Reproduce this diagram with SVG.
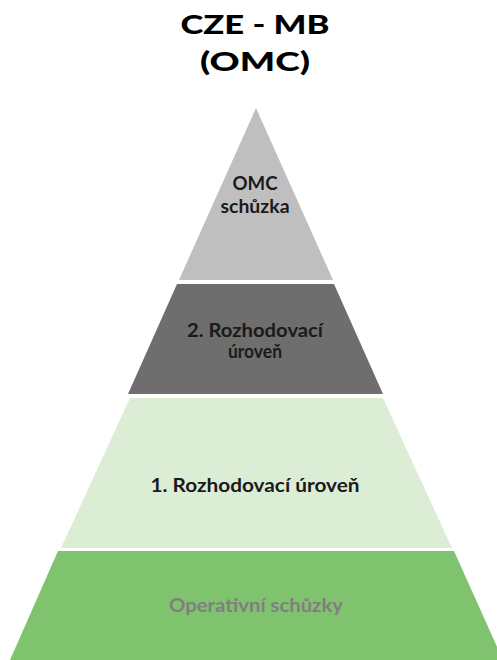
<svg xmlns="http://www.w3.org/2000/svg" width="497" height="660" viewBox="0 0 497 660">
<style>
.t{font-family:Lato,"Open Sans","Liberation Sans",sans-serif;font-weight:bold;text-anchor:middle}
.title{font-size:27px;fill:#000;font-weight:900}
.lbl{font-size:19px;fill:#1a1a1a}
.sm{font-size:18px}
.op{font-size:19px;fill:#7f7f7f}
</style>
<rect width="497" height="660" fill="#fff"/>
<g id="title">
<text class="t title" x="255" y="34" textLength="149" lengthAdjust="spacingAndGlyphs">CZE - MB</text>
<text class="t title" x="255" y="71" textLength="110" lengthAdjust="spacingAndGlyphs">(OMC)</text>
</g>
<g id="level-omc">
<polygon points="256,108 333,280 179,280" fill="#bfbfbf"/>
<text class="t lbl" x="255" y="190" textLength="45" lengthAdjust="spacingAndGlyphs">OMC</text>
<text class="t lbl" x="255" y="213" textLength="69" lengthAdjust="spacingAndGlyphs">schůzka</text>
</g>
<g id="level-2">
<polygon points="177,284 334,284 383,394 128,394" fill="#6e6e6e"/>
<text class="t lbl sm" x="255" y="337" textLength="136" lengthAdjust="spacingAndGlyphs">2. Rozhodovací</text>
<text class="t lbl sm" x="255" y="358" textLength="54" lengthAdjust="spacingAndGlyphs">úroveň</text>
</g>
<g id="level-1">
<polygon points="130,398 383,398 452,548 61,548" fill="#dcedd6"/>
<text class="t lbl" x="255" y="492" textLength="209" lengthAdjust="spacingAndGlyphs">1. Rozhodovací úroveň</text>
</g>
<g id="level-op">
<polygon points="58,551 454,551 503,660 10,660" fill="#80c36f"/>
<text class="t op" x="256" y="612" textLength="174" lengthAdjust="spacingAndGlyphs">Operativní schůzky</text>
</g>
<g id="connectors"/>
</svg>
